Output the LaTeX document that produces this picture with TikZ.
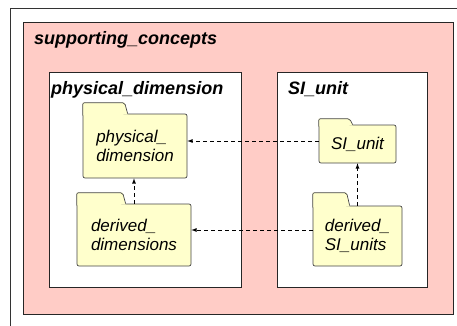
\documentclass[tikz,border=0pt]{standalone}
\usepackage{fontspec}
\setmainfont{Liberation Sans}
\usepackage{xcolor}
\usepackage{tikz}
\usetikzlibrary{arrows, calc}

\definecolor{pkgpink}{RGB}{255,204,198}
\definecolor{folderyellow}{RGB}{255,255,204}
\definecolor{folderline}{RGB}{70,70,70}

\tikzset{
    frame/.style={draw=black!80, line width=0.8pt},
    pkgline/.style={draw=black!85, line width=0.8pt},
    pkgtitle/.style={anchor=base west, inner sep=0pt, font=\fontsize{18}{20}\selectfont\bfseries\itshape},
    folder/.style={draw=folderline, fill=folderyellow, line width=0.7pt, rounded corners=2pt,
        inner sep=0pt, align=left, font=\fontsize{17}{19}\selectfont\itshape},
    foldertab/.style={draw=folderline, line width=0.7pt, rounded corners=2pt},
    dep/.style={line width=0.8pt, dash pattern=on 4pt off 3pt, -latex},
}

% tab on top of a folder node: node, tab width, tab height
\newcommand{\foldertab}[3]{%
    \fill[folderyellow] ([yshift=-2pt]#1.north west) -- ++(0,-#3-2) -- ++(#2,0) -- ++(3,#3) -- ++(0,1) -- cycle;
    \draw[foldertab] ([yshift=-2pt]#1.north west) -- ++(0,-#3-2) -- ++(#2,0) -- ++(3,#3);}

\begin{document}
\begin{tikzpicture}[x=1pt, y=-1pt]
    \useasboundingbox (0,0) rectangle (457,325);

    % Frame
    \draw[frame] (10,326) -- (10,8) -- (458,8);

    % Outer package
    \draw[pkgline, fill=pkgpink] (23,22) rectangle (453,314);
    \node[pkgtitle] (sctitle) at (34,44) {supporting\_concepts};

    % Inner packages
    \draw[pkgline, fill=white] (49,72) rectangle (241,287);
    \node[pkgtitle] (pdtitle) at (51,94) {physical\_dimension};
    \draw[pkgline, fill=white] (277,72) rectangle (427,287);
    \node[pkgtitle] (sutitle) at (288,94) {SI\_unit};

    % Folders
    \node[folder, minimum width=104pt, minimum height=64pt] (pd) at (135,146) {physical\_\\dimension};
    \foldertab{pd}{42}{11}
    \node[folder, minimum width=114pt, minimum height=62pt] (dd) at (134,235) {derived\_\\dimensions};
    \foldertab{dd}{46}{11}
    \node[folder, minimum width=77pt, minimum height=38pt] (su) at (357.5,144) {SI\_unit};
    \foldertab{su}{31}{6}
    \node[folder, minimum width=89pt, minimum height=60pt] (dsu) at (357.5,236) {derived\_\\SI\_units};
    \foldertab{dsu}{34}{13}

    % Dependencies
    \draw[dep] ([yshift=3pt]su.west) -- ([yshift=3pt]su.west -| pd.east);
    \draw[dep] ([yshift=6pt]dsu.west) -- ([yshift=6pt]dsu.west -| dd.east);
    \draw[dep] (dd.north) -- (dd.north |- pd.south);
    \draw[dep] (dsu.north) -- (su.south);
\end{tikzpicture}
\end{document}
